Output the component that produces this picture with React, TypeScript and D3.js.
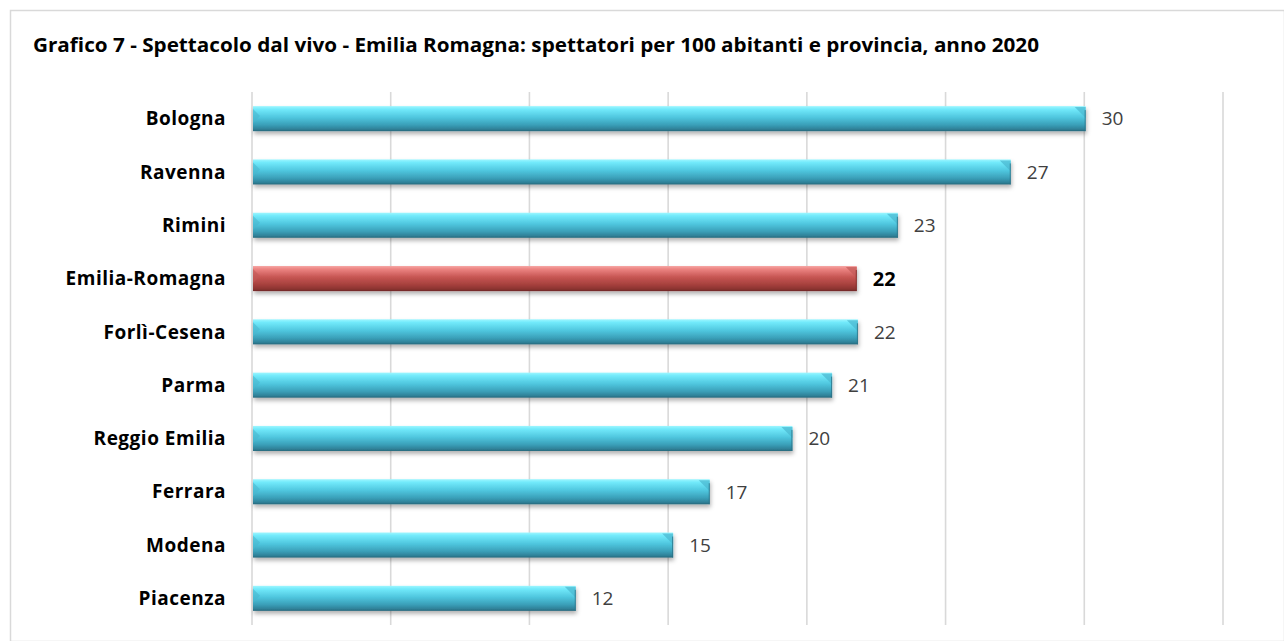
import React from "react";
import * as d3 from "d3";

const provinces = [
  "Bologna",
  "Ravenna",
  "Rimini",
  "Emilia-Romagna",
  "Forlì-Cesena",
  "Parma",
  "Reggio Emilia",
  "Ferrara",
  "Modena",
  "Piacenza",
];
const spectators = [30.05, 27.35, 23.28, 21.8, 21.84, 20.91, 19.48, 16.5, 15.18, 11.67];
const valueLabels = ["30", "27", "23", "22", "22", "21", "20", "17", "15", "12"];
const highlight = "Emilia-Romagna";
const xTicks = [0, 5, 10, 15, 20, 25, 30, 35];

const W = 1284;
const H = 641;
const margin = { top: 92, right: 61, bottom: 16, left: 252 };
const FONT = "'Open Sans', 'Noto Sans', sans-serif";

export default function App() {
  const x = d3
    .scaleLinear()
    .domain([0, 35])
    .range([margin.left, W - margin.right]);

  const y = d3
    .scaleBand()
    .domain(provinces)
    .range([margin.top, H - margin.bottom])
    .paddingInner(0.53)
    .paddingOuter(0.265);

  const bh = y.bandwidth();

  return (
    <svg width={W} height={H} style={{ position: "absolute", left: 0, top: 0, background: "#fff" }}>
      <defs>
        <linearGradient id="blueBar" x1="0" y1="0" x2="0" y2="1">
          <stop offset="0" stopColor="#9ef6ff" />
          <stop offset="0.12" stopColor="#72eafb" />
          <stop offset="0.45" stopColor="#4fc6de" />
          <stop offset="0.75" stopColor="#3a9fb8" />
          <stop offset="0.92" stopColor="#2f8198" />
          <stop offset="1" stopColor="#27687b" />
        </linearGradient>
        <linearGradient id="redBar" x1="0" y1="0" x2="0" y2="1">
          <stop offset="0" stopColor="#f6a5a3" />
          <stop offset="0.12" stopColor="#ec8482" />
          <stop offset="0.45" stopColor="#c65552" />
          <stop offset="0.75" stopColor="#a5403d" />
          <stop offset="0.92" stopColor="#8b3331" />
          <stop offset="1" stopColor="#702826" />
        </linearGradient>
        <filter id="shadow" x="-5%" y="-30%" width="110%" height="180%">
          <feDropShadow dx="1" dy="3" stdDeviation="2" floodColor="#000" floodOpacity="0.3" />
        </filter>
      </defs>

      {/* chart frame */}
      <rect x={10.5} y={10.5} width={W - 10} height={H - 10} fill="#fff" stroke="#d9d9d9" strokeWidth={1.5} />

      <text x={33} y={52} fontFamily={FONT} fontWeight="bold" fontSize={19} fill="#000" textLength={1006} lengthAdjust="spacingAndGlyphs">
        Grafico 7 - Spettacolo dal vivo - Emilia Romagna: spettatori per 100 abitanti e provincia, anno 2020
      </text>

      {/* vertical gridlines */}
      <g>
        {xTicks.map((t) => (
          <line key={t} x1={x(t)} x2={x(t)} y1={margin.top} y2={H - margin.bottom} stroke="#d9d9d9" strokeWidth={1.6} />
        ))}
      </g>

      <g>
        {provinces.map((p, i) => {
          const y0 = y(p) as number;
          const x0 = x(0) + 1;
          const x1 = x(spectators[i]);
          const isHi = p === highlight;
          const capColor = isHi ? "#c25a57" : "#4ab7cf";
          return (
            <g key={p}>
              <rect x={x0} y={y0} width={x1 - x0} height={bh} fill={`url(#${isHi ? "redBar" : "blueBar"})`} filter="url(#shadow)" />
              {/* bevelled ends */}
              <polygon points={`${x1 - 11},${y0 + 1} ${x1},${y0 + 1} ${x1},${y0 + 12}`} fill={capColor} opacity={0.7} />
              <polygon points={`${x0},${y0 + 3} ${x0 + 7},${y0 + 10} ${x0},${y0 + 17}`} fill={capColor} opacity={0.6} />
              <line x1={x1 - 0.5} x2={x1 - 0.5} y1={y0 + 4} y2={y0 + bh} stroke={isHi ? "#7a2c2a" : "#2a7085"} strokeWidth={1} opacity={0.8} />
            </g>
          );
        })}
      </g>

      {/* category labels */}
      <g>
        {provinces.map((p) => (
          <text
            key={p}
            x={226}
            y={(y(p) as number) + bh / 2}
            dy="0.35em"
            textAnchor="end"
            fontFamily={FONT}
            fontWeight="bold"
            fontSize={19}
            letterSpacing={0.5}
            fill="#000"
          >
            {p}
          </text>
        ))}
      </g>

      {/* value labels */}
      <g>
        {provinces.map((p, i) => {
          const isHi = p === highlight;
          return (
            <text
              key={p}
              x={x(spectators[i]) + 16}
              y={(y(p) as number) + bh / 2}
              dy="0.36em"
              fontFamily={FONT}
              fontWeight={isHi ? "bold" : "normal"}
              fontSize={isHi ? 20 : 19}
              fill={isHi ? "#000" : "#404040"}
            >
              {valueLabels[i]}
            </text>
          );
        })}
      </g>
    </svg>
  );
}
